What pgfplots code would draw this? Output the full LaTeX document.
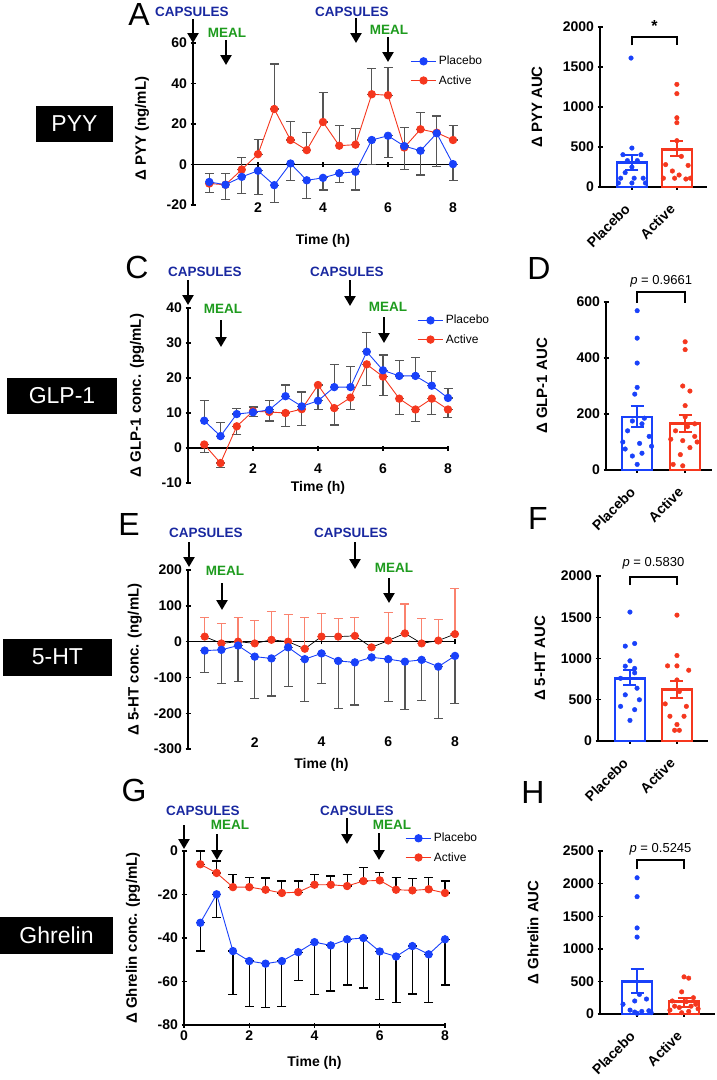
\documentclass[border=0pt]{standalone}
\usepackage{fontspec}
\setmainfont{Liberation Sans}
\usepackage{pgfplots}
\usepackage{pgfplotstable}
\pgfplotsset{compat=1.18}
\usetikzlibrary{arrows.meta}

\definecolor{pblue}{RGB}{25,65,250}
\definecolor{ared}{RGB}{245,55,30}
\definecolor{lred}{RGB}{250,130,110}
\definecolor{capblue}{RGB}{25,40,160}
\definecolor{mealgreen}{RGB}{30,155,30}
\definecolor{errgray}{RGB}{85,85,85}

% ---- time courses: t, mean, +err, -err ----
\pgfplotstableread{
t m ep em
0.5 -8.6 4.2 5.3
1.0 -10.0 5.6 7.2
1.5 -6.1 0 8.2
2.0 -3.1 0 11.7
2.5 -10.2 0 8.7
3.0 0.5 0 8.2
3.5 -7.8 0 8.9
4.0 -6.6 0 6.0
4.5 -4.3 0 4.4
5.0 -3.6 0 9.0
5.5 12.1 0 12.1
6.0 14.2 0 10.9
6.5 9.1 0 11.6
7.0 6.8 0 12.0
7.5 15.4 8.6 16.5
8.0 0.2 0 7.9
}\Apla
\pgfplotstableread{
t m ep em
0.5 -9.4 0 0
1.0 -10.0 0 0
1.5 -2.5 6.0 0
2.0 5.1 7.3 0
2.5 27.4 22.2 0
3.0 12.1 9.1 0
3.5 7.1 8.6 0
4.0 21.0 14.5 0
4.5 9.3 9.9 0
5.0 9.8 7.9 0
5.5 34.7 12.9 0
6.0 34.2 13.9 0
6.5 8.4 9.9 0
7.0 17.4 8.2 0
7.5 15.7 0 0
8.0 12.1 7.1 0
}\Aact
\pgfplotstableread{
t m ep em
0.5 7.8 5.8 0
1.0 3.4 3.8 0
1.5 9.7 1.7 0
2.0 10.2 1.5 0
2.5 10.9 2.7 0
3.0 14.8 3.2 0
3.5 11.9 4.1 0
4.0 13.5 4.5 0
4.5 17.4 6.5 0
5.0 17.4 5.8 0
5.5 27.5 5.5 0
6.0 22.2 4.4 0
6.5 20.6 4.3 0
7.0 20.6 5.3 0
7.5 17.8 4.0 0
8.0 14.3 2.7 0
}\Cpla
\pgfplotstableread{
t m ep em
0.5 1.0 0 2.3
1.0 -4.3 0 1.3
1.5 6.2 0 2.4
2.0 10.5 0 1.6
2.5 10.3 0 2.6
3.0 10.0 0 3.8
3.5 11.1 0 4.7
4.0 18.0 0 6.9
4.5 11.4 0 4.8
5.0 14.4 0 3.5
5.5 23.9 0 6.0
6.0 20.4 0 5.5
6.5 14.1 0 4.6
7.0 11.0 0 3.5
7.5 14.1 0 4.5
8.0 11.0 0 2.3
}\Cact
\pgfplotstableread{
t m ep em
0.5 -25 0 61
1.0 -23 0 95
1.5 -11 0 101
2.0 -42 0 117
2.5 -47 0 105
3.0 -16 0 109
3.5 -49 0 118
4.0 -33 0 85
4.5 -54 0 132
5.0 -58 0 119
5.5 -44 0 0
6.0 -49 0 118
6.5 -56 0 133
7.0 -51 0 114
7.5 -70 0 144
8.0 -40 0 132
}\Epla
\pgfplotstableread{
t m ep em
0.5 14 53 0
1.0 -5 56 0
1.5 0 67 0
2.0 -5 64 0
2.5 5 79 0
3.0 0 76 0
3.5 -20 87 0
4.0 14 65 0
4.5 14 51 0
5.0 16 52 0
5.5 -16 0 0
6.0 3 79 0
6.5 23 82 0
7.0 -5 70 0
7.5 3 59 0
8.0 21 127 0
}\Eact
\pgfplotstableread{
t m ep em
0.5 -33.0 0 13
1.0 -19.9 0 10.5
1.5 -46.0 0 20
2.0 -50.6 0 21
2.5 -51.8 0 20
3.0 -50.6 0 21
3.5 -46.5 0 13
4.0 -41.9 0 24
4.5 -43.4 0 21
5.0 -40.6 0 21
5.5 -40.0 0 23
6.0 -46.2 0 22
6.5 -48.5 0 21
7.0 -43.7 0 22
7.5 -47.5 0 22
8.0 -40.6 0 21
}\Gpla
\pgfplotstableread{
t m ep em
0.5 -6.1 6.1 0
1.0 -10.1 5.5 0
1.5 -16.6 5.7 0
2.0 -16.6 4.3 0
2.5 -17.8 5.4 0
3.0 -19.3 5.5 0
3.5 -18.9 5.1 0
4.0 -15.5 4.8 0
4.5 -15.5 4.0 0
5.0 -16.1 5.4 0
5.5 -13.8 6.4 0
6.0 -13.5 3.8 0
6.5 -17.8 5.5 0
7.0 -18.1 5.4 0
7.5 -17.6 5.6 0
8.0 -19.3 5.5 0
}\Gact

\pgfplotsset{
  base/.style={scale only axis, clip=false,
    font=\bfseries\fontsize{14}{16}\selectfont,
    /pgf/number format/assume math mode=true,
    /pgf/number format/1000 sep={},
    axis line style={line width=1.6pt},
    tick style={line width=1.4pt, black},
    major tick length=5pt, tick align=outside,
    label style={font=\bfseries\fontsize{15}{17}\selectfont}},
  timeax/.style={base, xmin=0, xmax=8, xtick={2,4,6,8},
    axis y line=left, axis x line=middle,
    x axis line style={-}, y axis line style={-},
    xlabel={Time (h)},
    legend style={draw=none, fill=none, font=\mdseries\fontsize{12}{14}\selectfont,
      anchor=north west, row sep=5pt, inner sep=0pt},
    legend cell align=left, reverse legend,
    legend image code/.code={\draw[mark repeat=2,mark phase=2,##1]
      plot coordinates {(0cm,0cm) (0.45cm,0cm) (0.9cm,0cm)};}},
  barax/.style={base, ymin=0, xtick={0,1}, xticklabels={Placebo,Active},
    axis y line=left, axis x line=bottom,
    x axis line style={-}, y axis line style={-},
    xticklabel style={rotate=45, anchor=east, xshift=-12pt, yshift=-9pt,
      font=\bfseries\fontsize{14}{16}\selectfont}},
  errp/.style={draw=none, mark=*, mark size=0.01pt, mark options={draw=none, fill=none},
    forget plot,
    error bars/y dir=both, error bars/y explicit, error bars/error mark=-,
    error bars/error bar style={line width=1.2pt, draw=#1, solid},
    error bars/error mark options={rotate=90, mark size=4.5pt, line width=1.2pt, draw=#1}},
  pser/.style={pblue, line width=0.9pt, mark=*, mark size=3.7pt,
    mark options={solid, fill=pblue, draw=pblue}},
  aser/.style={ared, line width=0.9pt, mark=*, mark size=3.7pt,
    mark options={solid, fill=ared, draw=ared}},
  barp/.style={ybar, bar shift=0pt, bar width=30pt, fill=white, draw=#1, line width=2.6pt,
    error bars/y dir=both, error bars/y explicit, error bars/error mark=-,
    error bars/error bar style={line width=2pt, draw=#1},
    error bars/error mark options={rotate=90, mark size=6.5pt, line width=2pt, draw=#1}},
  dots/.style={only marks, mark=*, mark size=2.3pt, color=#1, mark options={fill=#1, draw=#1}},
}

\newcommand{\ann}[7]{%
  \node[text=#7, font=\bfseries\fontsize{13.5}{15}\selectfont] at (#1,#2) {#6};
  \draw[line width=2.3pt, -{Triangle[width=11pt,length=10pt]}] (#3,#4) -- (#3,#5);}

\begin{document}
\begin{tikzpicture}
\useasboundingbox (0pt,0pt) rectangle (717pt,-1080pt);

% ---------------- A : PYY ----------------
\begin{axis}[timeax, at={(193pt,-205pt)}, anchor=south west,
  width=260pt, height=162pt, ymin=-20, ymax=60, ytick={-20,0,20,40,60},
  xticklabel style={anchor=center, yshift=-41pt},
  xlabel style={at={(rel axis cs:0.5,-0.222)}, anchor=center},
  ylabel style={at={(rel axis cs:-0.196,0.47)}, anchor=center, rotate=0},
  ylabel={Δ PYY (ng/mL)},
  legend style={at={(rel axis cs:0.835,0.932)}}]
\addplot[errp=errgray] table[x=t, y=m, y error plus=ep, y error minus=em] {\Aact};
\addplot[errp=errgray] table[x=t, y=m, y error plus=ep, y error minus=em] {\Apla};
\addplot[aser] table[x=t, y=m] {\Aact};
\addplot[pser] table[x=t, y=m] {\Apla};
\legend{Active, Placebo}
\end{axis}

% ---------------- B : PYY AUC ----------------
\begin{axis}[barax, at={(600pt,-187pt)}, anchor=south west,
  width=107pt, height=160pt, xmin=-0.71, xmax=1.67, ymax=2000,
  ytick={0,500,1000,1500,2000},
  ylabel style={at={(rel axis cs:-0.589,0.5)}, anchor=center},
  ylabel={Δ PYY AUC}]
\addplot[barp=pblue] coordinates {(0,304) += (0,100) -= (0,96)};
\addplot[barp=ared] coordinates {(1,471) += (0,100) -= (0,84)};
\addplot[dots=pblue] coordinates {(-0.02,1612) (0,487) (-0.2,404) (0.2,404) (-0.1,330) (0.12,330)
  (0,250) (-0.15,180) (-0.25,110) (0.05,110) (0.25,110) (-0.3,50) (0,50) (0.3,50)};
\addplot[dots=ared] coordinates {(1,1283) (1,1167) (1,866) (1,804) (1,579) (1.1,383) (0.75,280)
  (1.25,270) (0.9,200) (0.7,110) (1.05,150) (0.95,110) (1.3,110) (1.2,100)};
\draw[line width=1.6pt] (axis cs:0,1771) -- (axis cs:0,1875) -- (axis cs:1,1875) -- (axis cs:1,1771);
\node[font=\bfseries\fontsize{16}{16}\selectfont] at (axis cs:0.5,2010) {*};
\end{axis}

% ---------------- C : GLP-1 ----------------
\begin{axis}[timeax, at={(188pt,-483pt)}, anchor=south west,
  width=260pt, height=175pt, ymin=-10, ymax=40, ytick={-10,0,10,20,30,40},
  xticklabel style={anchor=center, yshift=-18pt},
  xlabel style={at={(rel axis cs:0.5,-0.03)}, anchor=center},
  ylabel style={at={(rel axis cs:-0.196,0.5)}, anchor=center, rotate=0},
  ylabel={Δ GLP-1 conc. (pg/mL)},
  legend style={at={(rel axis cs:0.881,0.971)}}]
\addplot[errp=errgray] table[x=t, y=m, y error plus=ep, y error minus=em] {\Cact};
\addplot[errp=errgray] table[x=t, y=m, y error plus=ep, y error minus=em] {\Cpla};
\addplot[aser] table[x=t, y=m] {\Cact};
\addplot[pser] table[x=t, y=m] {\Cpla};
\legend{Active, Placebo}
\end{axis}

% ---------------- D : GLP-1 AUC ----------------
\begin{axis}[barax, at={(606pt,-470pt)}, anchor=south west,
  width=106pt, height=168pt, xmin=-0.65, xmax=1.56, ymax=600,
  ytick={0,200,400,600},
  ylabel style={at={(rel axis cs:-0.604,0.5)}, anchor=center},
  ylabel={Δ GLP-1 AUC}]
\addplot[barp=pblue] coordinates {(0,189) += (0,38) -= (0,34)};
\addplot[barp=ared] coordinates {(1,167) += (0,31) -= (0,30)};
\addplot[dots=pblue] coordinates {(0,569) (0,471) (0,382) (0,295) (-0.05,271) (0.15,185) (-0.1,175)
  (0.1,165) (-0.2,140) (0.25,120) (-0.3,100) (0.05,95) (0.3,85) (-0.25,75) (0.1,60) (-0.1,50) (0,20)};
\addplot[dots=ared] coordinates {(1,458) (1,430) (0.95,300) (1.1,282) (1,230) (1,190) (1.2,165)
  (1.05,155) (0.8,140) (1.2,120) (0.7,110) (0.95,105) (1.25,100) (1.1,80) (0.9,55) (0.75,20) (0.95,15)};
\draw[line width=1.6pt] (axis cs:0,597) -- (axis cs:0,635) -- (axis cs:1,635) -- (axis cs:1,597);
\node[font=\mdseries\fontsize{13}{15}\selectfont] at (axis cs:0.5,675) {\textit{p} = 0.9661};
\end{axis}

% ---------------- E : 5-HT ----------------
\begin{axis}[timeax, at={(188pt,-749pt)}, anchor=south west,
  width=267pt, height=179pt, ymin=-300, ymax=200, ytick={-300,-200,-100,0,100,200},
  xticklabel style={anchor=center, yshift=-98pt},
  xlabel style={at={(rel axis cs:0.5,-0.089)}, anchor=center},
  ylabel style={at={(rel axis cs:-0.199,0.5)}, anchor=center, rotate=0},
  ylabel={Δ 5-HT conc. (ng/mL)}]
\addplot[errp=lred] table[x=t, y=m, y error plus=ep, y error minus=em] {\Eact};
\addplot[errp=errgray] table[x=t, y=m, y error plus=ep, y error minus=em] {\Epla};
\addplot[aser, draw=black, line width=0.7pt] table[x=t, y=m] {\Eact};
\addplot[pser] table[x=t, y=m] {\Epla};
\end{axis}

% ---------------- F : 5-HT AUC ----------------
\begin{axis}[barax, at={(598pt,-741pt)}, anchor=south west,
  width=110pt, height=165pt, xmin=-0.68, xmax=1.66, ymax=2000,
  ytick={0,500,1000,1500,2000},
  ylabel style={at={(rel axis cs:-0.527,0.5)}, anchor=center},
  ylabel={Δ 5-HT AUC}]
\addplot[barp=pblue] coordinates {(0,757) += (0,101) -= (0,81)};
\addplot[barp=ared] coordinates {(1,623) += (0,106) -= (0,97)};
\addplot[dots=pblue] coordinates {(0,1563) (0.1,1182) (-0.1,1150) (0,972) (-0.1,907) (0.1,880)
  (0.1,826) (-0.2,760) (0.15,640) (-0.1,560) (0.2,500) (-0.2,420) (0.1,380) (0,250)};
\addplot[dots=ared] coordinates {(1,1526) (1,1036) (0.8,911) (1,911) (1.25,858) (1,740) (1.05,600)
  (0.75,450) (1.2,420) (0.85,300) (1.15,300) (1,200) (0.95,130) (1.05,130)};
\draw[line width=1.6pt] (axis cs:0,1890) -- (axis cs:0,1990) -- (axis cs:1,1990) -- (axis cs:1,1890);
\node[font=\mdseries\fontsize{13}{15}\selectfont] at (axis cs:0.5,2158) {\textit{p} = 0.5830};
\end{axis}

% ---------------- G : Ghrelin ----------------
\begin{axis}[timeax, at={(184pt,-1025pt)}, anchor=south west,
  width=261pt, height=174pt, ymin=-80, ymax=0, ytick={-80,-60,-40,-20,0},
  axis x line=bottom, x axis line style={-}, xtick={0,2,4,6,8},
  xlabel style={at={(rel axis cs:0.5,-0.218)}, anchor=center},
  ylabel style={at={(rel axis cs:-0.195,0.5)}, anchor=center, rotate=0},
  ylabel={Δ Ghrelin conc. (pg/mL)},
  legend style={at={(rel axis cs:0.847,1.115)}}]
\addplot[errp=black] table[x=t, y=m, y error plus=ep, y error minus=em] {\Gact};
\addplot[errp=black] table[x=t, y=m, y error plus=ep, y error minus=em] {\Gpla};
\addplot[aser] table[x=t, y=m] {\Gact};
\addplot[pser] table[x=t, y=m] {\Gpla};
\legend{Active, Placebo}
\end{axis}

% ---------------- H : Ghrelin AUC ----------------
\begin{axis}[barax, at={(600pt,-1014pt)}, anchor=south west,
  width=115pt, height=163pt, xmin=-0.79, xmax=1.66, ymax=2500,
  ytick={0,500,1000,1500,2000,2500},
  ylabel style={at={(rel axis cs:-0.583,0.5)}, anchor=center},
  ylabel={Δ Ghrelin AUC}]
\addplot[barp=pblue] coordinates {(0,496) += (0,189) -= (0,179)};
\addplot[barp=ared] coordinates {(1,189) += (0,61) -= (0,77)};
\addplot[dots=pblue] coordinates {(0,2090) (0,1800) (0,1320) (0,1180) (0.05,300) (0.2,230) (-0.05,200)
  (-0.3,150) (-0.15,60) (0.25,50) (0.1,40) (-0.05,30) (0.3,20) (0,10)};
\addplot[dots=ared] coordinates {(1,570) (1.1,550) (0.95,340) (1.2,250) (0.75,200) (1.05,190) (1.25,150)
  (0.8,120) (1.15,120) (0.9,100) (1.3,80) (0.7,60) (1.1,40) (0.95,20)};
\draw[line width=1.6pt] (axis cs:0,2224) -- (axis cs:0,2362) -- (axis cs:1,2362) -- (axis cs:1,2224);
\node[font=\mdseries\fontsize{13}{15}\selectfont] at (axis cs:0.5,2531) {\textit{p} = 0.5245};
\end{axis}

% ---------------- annotations, letters, side boxes ----------------
\begin{scope}[x=1pt, y=-1pt]
\ann{192}{12}{193}{19}{43}{CAPSULES}{capblue}
\ann{227}{33}{226}{40}{65}{MEAL}{mealgreen}
\ann{352}{12}{356}{18}{43}{CAPSULES}{capblue}
\ann{389}{30}{388}{37}{62}{MEAL}{mealgreen}

\ann{205}{272}{188}{280}{305}{CAPSULES}{capblue}
\ann{223}{309}{221}{320}{347}{MEAL}{mealgreen}
\ann{347}{272}{350}{280}{306}{CAPSULES}{capblue}
\ann{388}{307}{384}{317}{343}{MEAL}{mealgreen}

\ann{206}{533}{189}{542}{567}{CAPSULES}{capblue}
\ann{225}{571}{222}{583}{610}{MEAL}{mealgreen}
\ann{351}{533}{355}{542}{569}{CAPSULES}{capblue}
\ann{394}{568}{389}{578}{603}{MEAL}{mealgreen}

\ann{203}{811}{184}{825}{849}{CAPSULES}{capblue}
\ann{230}{825}{217}{834}{860}{MEAL}{mealgreen}
\ann{357}{811}{347}{818}{844}{CAPSULES}{capblue}
\ann{392}{825}{379}{833}{860}{MEAL}{mealgreen}

\tikzset{lett/.style={font=\fontsize{32}{34}\selectfont, inner sep=0pt}}
\node[lett] at (139,14) {A};
\node[lett] at (137,267) {C};
\node[lett] at (129,524) {E};
\node[lett] at (134,790) {G};
\node[lett] at (539,268) {D};
\node[lett] at (538,518) {F};
\node[lett] at (533,792) {H};

\tikzset{box/.style={fill=black, text=white, inner sep=0pt, font=\fontsize{23}{25}\selectfont}}
\node[box, minimum width=77pt, minimum height=36pt] at (74.5,124) {PYY};
\node[box, minimum width=110pt, minimum height=36pt] at (62,396) {GLP-1};
\node[box, minimum width=109pt, minimum height=37pt] at (57.5,657) {5-HT};
\node[box, minimum width=113pt, minimum height=37pt] at (56.5,935) {Ghrelin};
\end{scope}
\end{tikzpicture}
\end{document}
